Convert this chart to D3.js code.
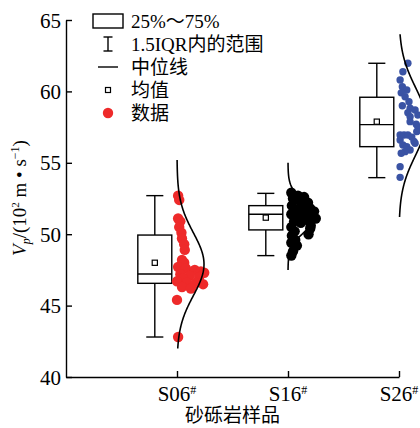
<!DOCTYPE html>
<html><head><meta charset="utf-8">
<script src="https://cdn.jsdelivr.net/npm/d3@7"></script>
<style>
body{margin:0;background:#fff;}
svg{display:block;}
text{font-family:"Liberation Serif","Noto Sans CJK SC",serif;fill:#000;}
</style></head>
<body><svg id="c" width="420" height="428"></svg>
<script>
// ---- data ----
const categories = ["S06", "S16", "S26"];
const yTicks = [40, 45, 50, 55, 60, 65];
const legendLabels = ["25%～75%", "1.5IQR内的范围", "中位线", "均值", "数据"];
const xTitle = "砂砾岩样品";

const whiskerLow  = [42.8, 48.5, 53.96];
const q1          = [46.56, 50.3, 56.13];
const median      = [47.21, 51.4, 57.67];
const q3          = [49.94, 52.0, 59.59];
const whiskerHigh = [52.7, 52.86, 61.97];
const means       = [48.0, 51.16, 57.88];

const curveMean = [47.9, 51.2, 57.9];
const curveSd   = [2.2, 1.05, 2.4];
const curveLow  = [42.0, 47.5, 51.2];
const curveHigh = [55.2, 55.0, 64.0];

const s06Values = [52.7,52.4,51.1,50.9,50.5,50.1,49.7,49.3,48.9,48.2,48.0,47.7,47.6,47.5,47.4,47.3,47.2,47.1,47.0,46.9,46.7,46.6,46.6,46.5,46.3,46.2,45.4,42.8];
const s06Jitter = [0.01,0.02,0.01,0.03,0.02,0.04,0.045,0.065,0.07,0.045,0.065,0.01,0.08,0.16,0.215,0.245,0.03,0.115,0.2,0.055,0.0,0.09,0.17,0.235,0.045,0.125,0.0,0.01];
const s16Values = [52.9,52.7,52.6,52.5,52.3,52.2,52.0,51.9,51.8,51.7,51.6,51.5,51.4,51.3,51.2,51.1,51.0,50.9,50.8,50.6,50.5,50.4,50.2,50.0,49.9,49.6,49.4,49.2,48.8,48.5];
const s16Jitter = [0.03,0.09,0.145,0.045,0.11,0.18,0.035,0.125,0.2,0.07,0.235,0.155,0.03,0.1,0.215,0.25,0.17,0.055,0.115,0.205,0.03,0.2,0.06,0.185,0.035,0.065,0.03,0.08,0.045,0.03];
const s26Values = [61.97,61.38,60.8,60.33,60.1,59.9,59.63,59.28,59.0,58.82,58.7,58.5,58.35,58.23,57.88,57.7,57.53,57.18,56.95,56.95,56.95,56.8,56.6,56.5,56.37,56.25,56.13,55.9,55.78,55.67,54.73,53.98];
const s26Jitter = [0.08,0.035,0.01,0.03,0.07,0.02,0.055,0.09,0.03,0.1,0.145,0.08,0.17,0.1,0.1,0.155,0.17,0.16,0.01,0.045,0.08,0.115,0.01,0.135,0.145,0.035,0.07,0.1,0.055,0.02,0.01,0.01];

const seriesValues = [s06Values, s16Values, s26Values];
const seriesJitter = [s06Jitter, s16Jitter, s26Jitter];

// ---- styles ----
const dotColors = ["#ee2a2a", "#000000", "#3a53a4"];
const dotRadius = [5.2, 5.2, 3.7];

const svg = d3.select("#c");
const x = d3.scaleLinear().domain([0, 3]).range([66, 399]);
const y = d3.scaleLinear().domain([40, 65]).range([377, 20]);
const boxOffset = -0.2, boxHalf = 0.153, capHalf = 0.077;

// axes
const yAxis = d3.axisLeft(y).tickValues(yTicks).tickSize(-6).tickSizeOuter(0).tickPadding(5);
const gy = svg.append("g").attr("transform", "translate(66,0)").call(yAxis);
gy.selectAll("text").style("font-size", "21px").attr("dy", "0.34em");
gy.selectAll("line,path").attr("stroke", "#000").attr("stroke-width", 1.4);

const xAxis = d3.axisBottom(x).tickValues([1, 2, 3]).tickSize(-6).tickSizeOuter(0).tickFormat("");
const gx = svg.append("g").attr("transform", "translate(0,377)").call(xAxis);
gx.selectAll("line,path").attr("stroke", "#000").attr("stroke-width", 1.4);

categories.forEach((c, i) => {
  const t = svg.append("text").attr("x", x(i + 1)).attr("y", 401)
    .attr("text-anchor", "middle").style("font-size", "21px");
  t.append("tspan").text(c);
  t.append("tspan").attr("dy", "-0.55em").style("font-size", "12px").text("#");
});

svg.append("text").attr("x", (x(0) + x(3)) / 2).attr("y", 422)
  .attr("text-anchor", "middle").style("font-size", "19px").text(xTitle);

// y title
const yt = svg.append("text").attr("transform", "translate(26,198) rotate(-90)")
  .attr("text-anchor", "middle").style("font-size", "19px");
yt.append("tspan").style("font-style", "italic").text("V");
yt.append("tspan").style("font-style", "italic").style("font-size", "12px").attr("dy", "4").text("p");
yt.append("tspan").attr("dy", "-4").text("/(10");
yt.append("tspan").style("font-size", "11px").attr("dy", "-7").text("2");
yt.append("tspan").attr("dy", "7").text(" m • s");
yt.append("tspan").style("font-size", "12px").attr("dy", "-7").text("−1");
yt.append("tspan").attr("dy", "7").text(")");

// boxes
categories.forEach((c, i) => {
  const cx = i + 1 + boxOffset;
  const g = svg.append("g").attr("stroke", "#000").attr("stroke-width", 1.4).attr("fill", "none");
  g.append("line").attr("x1", x(cx)).attr("x2", x(cx)).attr("y1", y(whiskerHigh[i])).attr("y2", y(q3[i]));
  g.append("line").attr("x1", x(cx)).attr("x2", x(cx)).attr("y1", y(q1[i])).attr("y2", y(whiskerLow[i]));
  g.append("line").attr("x1", x(cx - capHalf)).attr("x2", x(cx + capHalf)).attr("y1", y(whiskerHigh[i])).attr("y2", y(whiskerHigh[i]));
  g.append("line").attr("x1", x(cx - capHalf)).attr("x2", x(cx + capHalf)).attr("y1", y(whiskerLow[i])).attr("y2", y(whiskerLow[i]));
  g.append("rect").attr("x", x(cx - boxHalf)).attr("y", y(q3[i]))
    .attr("width", x(cx + boxHalf) - x(cx - boxHalf)).attr("height", y(q1[i]) - y(q3[i]));
  g.append("line").attr("x1", x(cx - boxHalf)).attr("x2", x(cx + boxHalf)).attr("y1", y(median[i])).attr("y2", y(median[i]));
  g.append("rect").attr("x", x(cx) - 2.6).attr("y", y(means[i]) - 2.6).attr("width", 5.2).attr("height", 5.2)
    .attr("fill", "#fff").attr("stroke-width", 1.2);
});

// points
categories.forEach((c, i) => {
  svg.append("g").selectAll("circle")
    .data(seriesValues[i].map((v, k) => ({ v, j: seriesJitter[i][k] })))
    .join("circle")
    .attr("cx", d => x(i + 1 + d.j)).attr("cy", d => y(d.v))
    .attr("r", dotRadius[i]).attr("fill", dotColors[i]);
});

// normal curves
const amp = 27;
categories.forEach((c, i) => {
  const vals = d3.range(0, 201).map(k => curveLow[i] + (curveHigh[i] - curveLow[i]) * k / 200);
  const line = d3.line()
    .x(v => x(i + 1) + amp * Math.exp(-((v - curveMean[i]) ** 2) / (2 * curveSd[i] ** 2)))
    .y(v => y(v));
  svg.append("path").attr("d", line(vals)).attr("fill", "none").attr("stroke", "#000").attr("stroke-width", 1.6);
});

// legend
const ly = [21, 44, 67, 90, 113];
const lx = 108;
const lg = svg.append("g").attr("stroke", "#000").attr("stroke-width", 1.4).attr("fill", "none");
lg.append("rect").attr("x", 93).attr("y", ly[0] - 7).attr("width", 30).attr("height", 14);
lg.append("line").attr("x1", lx).attr("x2", lx).attr("y1", ly[1] - 7).attr("y2", ly[1] + 7);
lg.append("line").attr("x1", lx - 4.5).attr("x2", lx + 4.5).attr("y1", ly[1] - 7).attr("y2", ly[1] - 7);
lg.append("line").attr("x1", lx - 4.5).attr("x2", lx + 4.5).attr("y1", ly[1] + 7).attr("y2", ly[1] + 7);
lg.append("line").attr("x1", 98).attr("x2", 118).attr("y1", ly[2]).attr("y2", ly[2]);
lg.append("rect").attr("x", lx - 2.5).attr("y", ly[3] - 2.5).attr("width", 5).attr("height", 5).attr("stroke-width", 1.2);
svg.append("circle").attr("cx", lx).attr("cy", ly[4]).attr("r", 5.2).attr("fill", dotColors[0]);
legendLabels.forEach((t, i) => {
  svg.append("text").attr("x", 131).attr("y", ly[i]).attr("dy", "0.35em")
    .style("font-size", "19px").text(t);
});
</script></body></html>
